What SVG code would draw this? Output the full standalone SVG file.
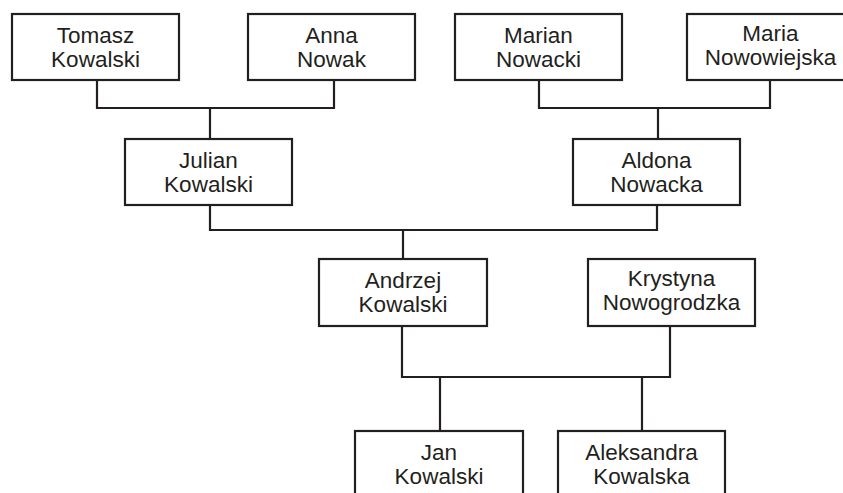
<svg xmlns="http://www.w3.org/2000/svg" width="843" height="493" viewBox="0 0 843 493">
<style>
.b{fill:#fff;stroke:#231f20;stroke-width:2.2}
.t{font-family:"Liberation Sans",Arial,sans-serif;font-size:22.5px;fill:#231f20;text-anchor:middle}
.c{fill:none;stroke:#231f20;stroke-width:2.2}
</style>
<rect width="843" height="493" fill="#fff"/>
<g id="connectors">
<path class="c" d="M97 80V108H334V80M210 108V138"/>
<path class="c" d="M539 80V108H770V80M658 108V138"/>
<path class="c" d="M210 205V230H657V205M403 230V259"/>
<path class="c" d="M402 326V377H670V326M440 377V431M642 377V431"/>
</g>
<g id="tomasz"><rect class="b" x="12" y="14" width="167" height="66"/><text class="t" x="95.5" y="43">Tomasz</text><text class="t" x="95.5" y="67">Kowalski</text></g>
<g id="anna"><rect class="b" x="248" y="14" width="167" height="66"/><text class="t" x="331.5" y="43">Anna</text><text class="t" x="331.5" y="67">Nowak</text></g>
<g id="marian"><rect class="b" x="455" y="14" width="167" height="66"/><text class="t" x="538.5" y="43">Marian</text><text class="t" x="538.5" y="67">Nowacki</text></g>
<g id="maria"><rect class="b" x="687" y="14" width="167" height="66"/><text class="t" x="770.5" y="41">Maria</text><text class="t" x="770.5" y="65">Nowowiejska</text></g>
<g id="julian"><rect class="b" x="125" y="139" width="167" height="66"/><text class="t" x="208.5" y="168">Julian</text><text class="t" x="208.5" y="192">Kowalski</text></g>
<g id="aldona"><rect class="b" x="573" y="139" width="167" height="66"/><text class="t" x="656.5" y="168">Aldona</text><text class="t" x="656.5" y="192">Nowacka</text></g>
<g id="andrzej"><rect class="b" x="319" y="259" width="168" height="67"/><text class="t" x="403" y="288">Andrzej</text><text class="t" x="403" y="312">Kowalski</text></g>
<g id="krystyna"><rect class="b" x="588" y="259" width="167" height="67"/><text class="t" x="671.5" y="286">Krystyna</text><text class="t" x="671.5" y="310">Nowogrodzka</text></g>
<g id="jan"><rect class="b" x="355" y="431" width="168" height="80"/><text class="t" x="439" y="460">Jan</text><text class="t" x="439" y="484">Kowalski</text></g>
<g id="aleksandra"><rect class="b" x="558" y="431" width="167" height="80"/><text class="t" x="641.5" y="460">Aleksandra</text><text class="t" x="641.5" y="484">Kowalska</text></g>
</svg>
